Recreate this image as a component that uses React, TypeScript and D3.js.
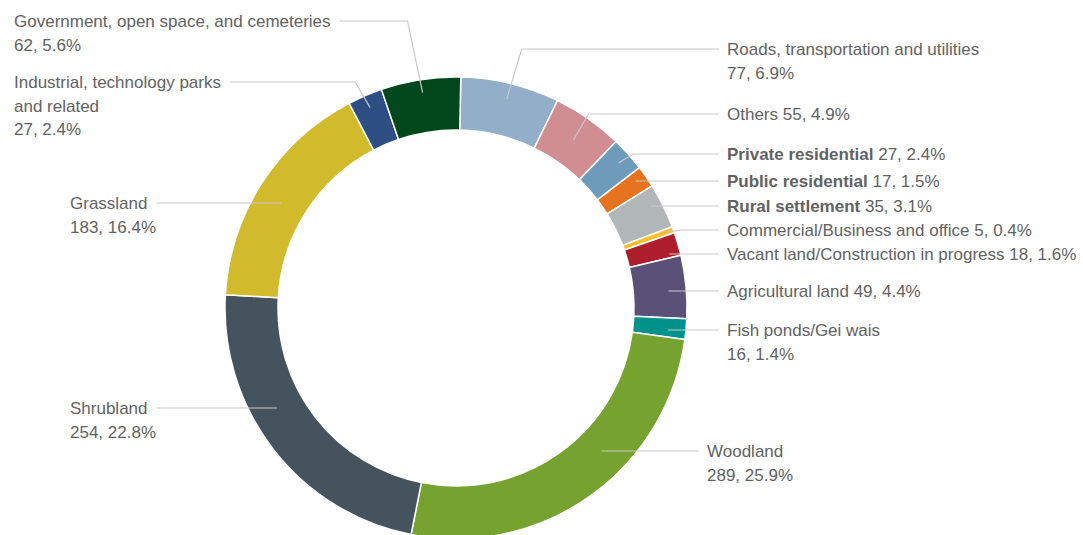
import React, { useEffect, useRef } from 'react'
import * as d3 from 'd3'

// slices go clockwise from 12 o'clock
const categories = [
    'Roads, transportation and utilities',
    'Others',
    'Private residential',
    'Public residential',
    'Rural settlement',
    'Commercial/Business and office',
    'Vacant land/Construction in progress',
    'Agricultural land',
    'Fish ponds/Gei wais',
    'Woodland',
    'Shrubland',
    'Grassland',
    'Industrial, technology parks and related',
    'Government, open space, and cemeteries'
]
const values = [77, 55, 27, 17, 35, 5, 18, 49, 16, 289, 254, 183, 27, 62]
const colors = [
    '#92aec9', '#d08e92', '#6f9bba', '#e8731f', '#b1b6b8', '#fbbf2d', '#ad1f2d',
    '#5a5078', '#00918b', '#76a22f', '#44535e', '#d1bb2c', '#2d4f84', '#00471b'
]
const boldNames = ['Private residential', 'Public residential', 'Rural settlement']

// label layout: text position, how the name wraps, leader type
interface LabelLayout {
    side: 1 | -1
    x: number
    y: number
    lines: string[] // name lines; value goes inline when 'inline'
    inline: boolean
    leader: 'elbow' | 'flat'
    r: number
}
const layout: LabelLayout[] = [
    { side: 1, x: 727, y: 49, lines: ['Roads, transportation and utilities'], inline: false, leader: 'elbow', r: 215 },
    { side: 1, x: 727, y: 114, lines: ['Others'], inline: true, leader: 'elbow', r: 205 },
    { side: 1, x: 727, y: 154, lines: ['Private residential'], inline: true, leader: 'elbow', r: 218 },
    { side: 1, x: 727, y: 181, lines: ['Public residential'], inline: true, leader: 'flat', r: 220 },
    { side: 1, x: 727, y: 206, lines: ['Rural settlement'], inline: true, leader: 'flat', r: 220 },
    { side: 1, x: 727, y: 230, lines: ['Commercial/Business and office'], inline: true, leader: 'elbow', r: 224 },
    { side: 1, x: 727, y: 254, lines: ['Vacant land/Construction in progress'], inline: true, leader: 'flat', r: 220 },
    { side: 1, x: 727, y: 291, lines: ['Agricultural land'], inline: true, leader: 'flat', r: 213 },
    { side: 1, x: 727, y: 330, lines: ['Fish ponds/Gei wais'], inline: false, leader: 'flat', r: 213 },
    { side: 1, x: 707, y: 451, lines: ['Woodland'], inline: false, leader: 'flat', r: 204 },
    { side: -1, x: 70, y: 408, lines: ['Shrubland'], inline: false, leader: 'flat', r: 205 },
    { side: -1, x: 70, y: 203, lines: ['Grassland'], inline: false, leader: 'flat', r: 204 },
    { side: -1, x: 14, y: 82, lines: ['Industrial, technology parks', 'and related'], inline: false, leader: 'elbow', r: 218 },
    { side: -1, x: 14, y: 21, lines: ['Government, open space, and cemeteries'], inline: false, leader: 'elbow', r: 218 }
]

const W = 1083
const H = 535
const cx = 456
const cy = 308
const outerR = 231
const innerR = 178
const startAngle = (1.2 * Math.PI) / 180
const lineH = 23.5
const FONT = "'Liberation Sans', Arial, sans-serif"

const App: React.FC = () => {
    const ref = useRef<SVGSVGElement>(null)
    useEffect(() => {
        const svg = d3.select(ref.current)
        svg.selectAll('*').remove()
        const total = d3.sum(values)
        const pct = (v: number) => `${((v / total) * 100).toFixed(1)}%`

        const pie = d3
            .pie<number>()
            .sort(null)
            .startAngle(startAngle)
            .endAngle(startAngle + Math.PI * 2)
        const arcs = pie(values)
        const arc = d3.arc<d3.PieArcDatum<number>>().innerRadius(innerR).outerRadius(outerR)

        const g = svg.append('g').attr('transform', `translate(${cx},${cy})`)
        g.selectAll('path')
            .data(arcs)
            .join('path')
            .attr('d', arc)
            .attr('fill', (d, i) => colors[i])
            .attr('stroke', '#fff')
            .attr('stroke-width', 1.5)
            .attr('stroke-linejoin', 'round')

        const labels = svg.append('g').attr('font-family', FONT).attr('font-size', 17).attr('fill', '#626262')
        const leaders = svg.append('g').attr('fill', 'none').attr('stroke', '#c9c9c9').attr('stroke-width', 1.2)

        arcs.forEach((a, i) => {
            const L = layout[i]
            const name = categories[i]
            const valTxt = `${values[i]}, ${pct(values[i])}`
            const bold = boldNames.includes(name)
            const t = labels.append('text').attr('x', L.x).attr('y', L.y).attr('dominant-baseline', 'central')
            let firstLine: any = t
            L.lines.forEach((ln, k) => {
                const ts = t
                    .append('tspan')
                    .attr('x', L.x)
                    .attr('y', L.y + k * lineH)
                    .attr('font-weight', bold ? 700 : 400)
                    .text(ln)
                if (k === 0) firstLine = ts
            })
            if (L.inline) {
                t.append('tspan').text(' ' + valTxt)
            } else {
                t.append('tspan')
                    .attr('x', L.x)
                    .attr('y', L.y + L.lines.length * lineH)
                    .text(valTxt)
            }

            // where the leader starts, next to the text
            let sx = L.x - 8
            if (L.side < 0) {
                const w = (firstLine.node() as SVGTSpanElement).getComputedTextLength()
                sx = L.x + w + 9
            }
            const mid = (a.startAngle + a.endAngle) / 2
            let pts: [number, number][]
            if (L.leader === 'elbow') {
                const ax = cx + L.r * Math.sin(mid)
                const ay = cy - L.r * Math.cos(mid)
                const ex = ax + L.side * 15
                pts = [[sx, L.y], [ex, L.y], [ax, ay]]
            } else {
                const dy = L.y - cy
                const ex = cx + L.side * Math.sqrt(L.r * L.r - dy * dy)
                pts = [[sx, L.y], [ex, L.y]]
            }
            leaders.append('path').attr('d', d3.line()(pts))
        })
    }, [])
    return (
        <div style={{ position: 'absolute', left: 0, top: 0, width: W, height: H, background: '#fff' }}>
            <svg ref={ref} width={W} height={H} viewBox={`0 0 ${W} ${H}`} />
        </div>
    )
}

export default App
